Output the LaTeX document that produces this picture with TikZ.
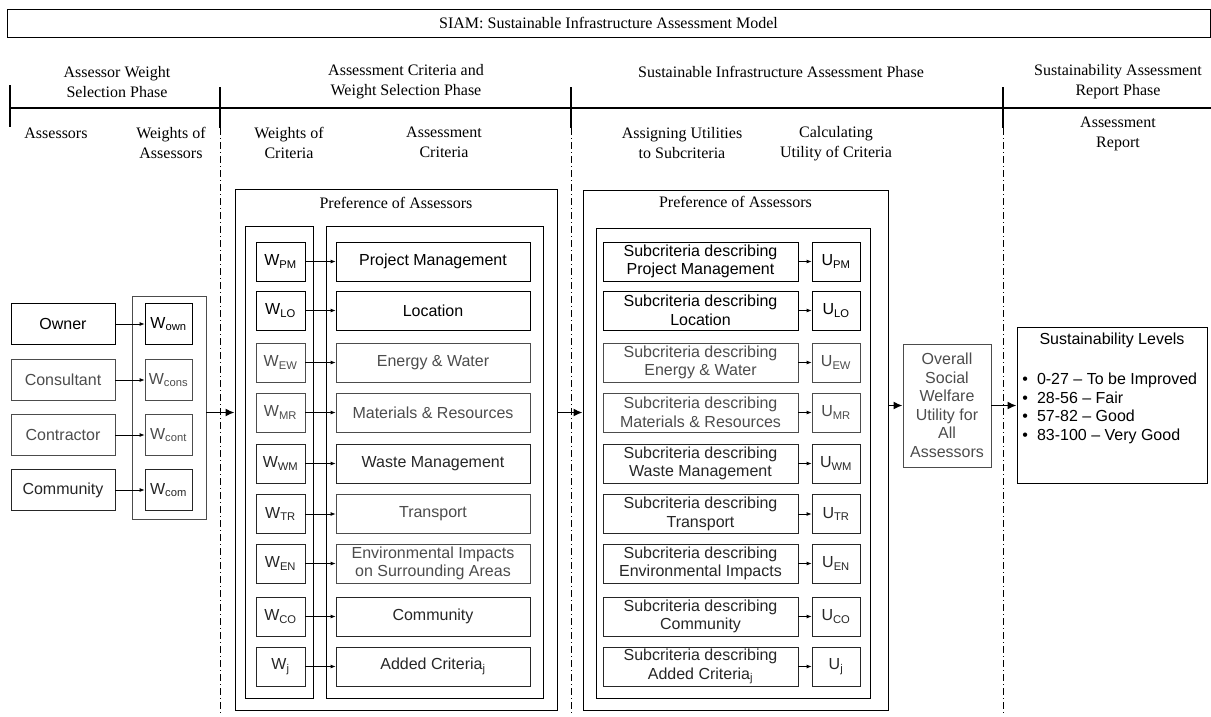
\documentclass[tikz,border=0pt]{standalone}
\usepackage{fontspec}
\setmainfont{Liberation Serif}
\setsansfont{Liberation Sans}
\usetikzlibrary{arrows.meta}

\begin{document}
\begin{tikzpicture}[x=1pt,y=-1pt,
  box/.style={draw,line width=0.8pt,inner sep=0pt,align=center,font=\sffamily\fontsize{16}{18.5}\selectfont},
  hdr/.style={inner sep=0pt,align=center,font=\fontsize{16}{20}\selectfont},
  pale/.style={draw=color2,text=color2},
  dim/.style={draw=color1,text=color1},
  arr/.style={-{Latex[length=5pt,width=4pt]},line width=0.8pt},
  bigarr/.style={-{Latex[length=9pt,width=8pt]},line width=1.8pt},
  split/.style={line width=0.8pt,dash pattern=on 7pt off 3pt on 1pt off 3pt}]
\definecolor{color1}{rgb}{0.15,0.15,0.15}
\definecolor{color2}{rgb}{0.3,0.3,0.3}
\useasboundingbox (0,0) rectangle (1211,716);

% title and time line
\node[draw,line width=0.8pt,inner sep=0pt,minimum width=1203,minimum height=28,font=\fontsize{16}{20}\selectfont] (title) at (608.5,23) {SIAM: Sustainable Infrastructure Assessment Model};
\coordinate (T0) at (10,108);
\coordinate (T1) at (1211,108);
\draw[line width=2pt] (T0) -- (T1);
\draw[line width=1.6pt] (10,85) -- (10,127);
\draw[line width=1.6pt] (220,87) -- (220,128);
\draw[line width=1.6pt] (571,87) -- (571,128);
\draw[line width=1.6pt] (1003,87) -- (1003,128);
\draw[split] (220,128) -- (220,716);
\draw[split] (571,128) -- (571,716);
\draw[split] (1003,128) -- (1003,716);

% phase names
\node[hdr] (ph1) at (117,82) {Assessor Weight\\Selection Phase};
\node[hdr] (ph2) at (406,82) {Assessment Criteria and\\Weight Selection Phase};
\node[hdr] (ph3) at (781,72) {Sustainable Infrastructure Assessment Phase};
\node[hdr] (ph4) at (1118,82) {Sustainability Assessment\\Report Phase};

% step names
\node[hdr] (st1) at (56,133) {Assessors};
\node[hdr] (st2) at (171,143) {Weights of\\Assessors};
\node[hdr] (st3) at (289,143) {Weights of\\Criteria};
\node[hdr] (st4) at (444,142) {Assessment\\Criteria};
\node[hdr] (st5) at (682,143) {Assigning Utilities\\to Subcriteria};
\node[hdr] (st6) at (836,144) {Calculating\\Utility of Criteria};
\node[hdr] (st7) at (1118,134) {Assessment\\Report};

% assessors and their weights
\node[box,minimum width=104,minimum height=41] (aOwn) at (63,324) {Owner};
\node[box,pale,minimum width=104,minimum height=41] (aCons) at (63,380) {Consultant};
\node[box,pale,minimum width=104,minimum height=41] (aCont) at (63,435) {Contractor};
\node[box,dim,minimum width=104,minimum height=41] (aCom) at (63,490) {Community};
\node[box,pale,minimum width=74,minimum height=223] (wcol) at (169,407.5) {};
\node[box,minimum width=47,minimum height=41] (wOwn) at (168.5,324) {W\textsubscript{own}};
\node[box,pale,minimum width=47,minimum height=41] (wCons) at (168.5,380) {W\textsubscript{cons}};
\node[box,pale,minimum width=47,minimum height=41] (wCont) at (168.5,435) {W\textsubscript{cont}};
\node[box,dim,minimum width=47,minimum height=41] (wCom) at (168.5,490) {W\textsubscript{com}};
\draw[arr] (aOwn) -- (wOwn);
\draw[arr] (aCons) -- (wCons);
\draw[arr] (aCont) -- (wCont);
\draw[arr] (aCom) -- (wCom);

% criteria and their weights
\node[box,minimum width=322,minimum height=521] (prefA) at (396,449.5) {};
\node[hdr] (prefAname) at (396,203) {Preference of Assessors};
\node[box,minimum width=68,minimum height=472] (wcolA) at (279,462) {};
\node[box,minimum width=217,minimum height=472] (ccolA) at (434.5,462) {};
\node[box,minimum width=49,minimum height=39] (wPM) at (280.5,261.5) {W\textsubscript{PM}};
\node[box,minimum width=49,minimum height=39] (wLO) at (280.5,310.5) {W\textsubscript{LO}};
\node[box,pale,minimum width=49,minimum height=39] (wEW) at (280.5,362.5) {W\textsubscript{EW}};
\node[box,pale,minimum width=49,minimum height=39] (wMR) at (280.5,412.5) {W\textsubscript{MR}};
\node[box,dim,minimum width=49,minimum height=39] (wWM) at (280.5,463.5) {W\textsubscript{WM}};
\node[box,dim,minimum width=49,minimum height=39] (wTR) at (280.5,514) {W\textsubscript{TR}};
\node[box,dim,minimum width=49,minimum height=39] (wEN) at (280.5,563.5) {W\textsubscript{EN}};
\node[box,dim,minimum width=49,minimum height=39] (wCO) at (280.5,616.5) {W\textsubscript{CO}};
\node[box,dim,minimum width=49,minimum height=39] (wJ) at (280.5,666.5) {W\textsubscript{j}};
\node[box,minimum width=194,minimum height=39] (cPM) at (433,261.5) {Project Management};
\node[box,minimum width=194,minimum height=39] (cLO) at (433,310.5) {Location};
\node[box,pale,minimum width=194,minimum height=39] (cEW) at (433,362.5) {Energy \& Water};
\node[box,pale,minimum width=194,minimum height=39] (cMR) at (433,412.5) {Materials \& Resources};
\node[box,dim,minimum width=194,minimum height=39] (cWM) at (433,463.5) {Waste Management};
\node[box,pale,minimum width=194,minimum height=39] (cTR) at (433,514) {Transport};
\node[box,pale,minimum width=194,minimum height=39] (cEN) at (433,563.5) {Environmental Impacts\\on Surrounding Areas};
\node[box,dim,minimum width=194,minimum height=39] (cCO) at (433,616.5) {Community};
\node[box,dim,minimum width=194,minimum height=39] (cJ) at (433,666.5) {Added Criteria\textsubscript{j}};
\draw[arr] (wPM) -- (cPM);
\draw[arr] (wLO) -- (cLO);
\draw[arr] (wEW) -- (cEW);
\draw[arr] (wMR) -- (cMR);
\draw[arr] (wWM) -- (cWM);
\draw[arr] (wTR) -- (cTR);
\draw[arr] (wEN) -- (cEN);
\draw[arr] (wCO) -- (cCO);
\draw[arr] (wJ) -- (cJ);

% utilities of criteria
\node[box,minimum width=305,minimum height=520] (prefB) at (735.5,450) {};
\node[hdr] (prefBname) at (735.5,202) {Preference of Assessors};
\node[box,minimum width=274,minimum height=470] (ucolB) at (733,463) {};
\node[box,minimum width=195,minimum height=39] (sPM) at (700.5,261.5) {Subcriteria describing\\Project Management};
\node[box,minimum width=195,minimum height=39] (sLO) at (700.5,310.5) {Subcriteria describing\\Location};
\node[box,pale,minimum width=195,minimum height=39] (sEW) at (700.5,362.5) {Subcriteria describing\\Energy \& Water};
\node[box,pale,minimum width=195,minimum height=39] (sMR) at (700.5,412.5) {Subcriteria describing\\Materials \& Resources};
\node[box,dim,minimum width=195,minimum height=39] (sWM) at (700.5,463.5) {Subcriteria describing\\Waste Management};
\node[box,dim,minimum width=195,minimum height=39] (sTR) at (700.5,514) {Subcriteria describing\\Transport};
\node[box,dim,minimum width=195,minimum height=39] (sEN) at (700.5,563.5) {Subcriteria describing\\Environmental Impacts};
\node[box,dim,minimum width=195,minimum height=39] (sCO) at (700.5,616.5) {Subcriteria describing\\Community};
\node[box,dim,minimum width=195,minimum height=39] (sJ) at (700.5,666.5) {Subcriteria describing\\Added Criteria\textsubscript{j}};
\node[box,minimum width=48,minimum height=39] (uPM) at (836,261.5) {U\textsubscript{PM}};
\node[box,minimum width=48,minimum height=39] (uLO) at (836,310.5) {U\textsubscript{LO}};
\node[box,pale,minimum width=48,minimum height=39] (uEW) at (836,362.5) {U\textsubscript{EW}};
\node[box,pale,minimum width=48,minimum height=39] (uMR) at (836,412.5) {U\textsubscript{MR}};
\node[box,dim,minimum width=48,minimum height=39] (uWM) at (836,463.5) {U\textsubscript{WM}};
\node[box,dim,minimum width=48,minimum height=39] (uTR) at (836,514) {U\textsubscript{TR}};
\node[box,dim,minimum width=48,minimum height=39] (uEN) at (836,563.5) {U\textsubscript{EN}};
\node[box,dim,minimum width=48,minimum height=39] (uCO) at (836,616.5) {U\textsubscript{CO}};
\node[box,dim,minimum width=48,minimum height=39] (uJ) at (836,666.5) {U\textsubscript{j}};
\draw[arr] (sPM) -- (uPM);
\draw[arr] (sLO) -- (uLO);
\draw[arr] (sEW) -- (uEW);
\draw[arr] (sMR) -- (uMR);
\draw[arr] (sWM) -- (uWM);
\draw[arr] (sTR) -- (uTR);
\draw[arr] (sEN) -- (uEN);
\draw[arr] (sCO) -- (uCO);
\draw[arr] (sJ) -- (uJ);

% overall utility and report
\node[box,pale,minimum width=88,minimum height=123] (overall) at (947,405.5) {Overall\\Social\\Welfare\\Utility for\\All\\Assessors};
\node[box,minimum width=190,minimum height=156] (levels) at (1112,405) {};
\node[box,draw=none] (levelsname) at (1112,340) {Sustainability Levels};
\node[box,draw=none,anchor=west,align=left] (levelslist) at (1022,408.5) {\textbullet\hspace{9pt}0-27 – To be Improved\\\textbullet\hspace{9pt}28-56 – Fair\\\textbullet\hspace{9pt}57-82 – Good\\\textbullet\hspace{9pt}83-100 – Very Good};

% flow between phases
\draw[bigarr] (wcol.east |- wMR.center) -- (prefA.west |- wMR.center);
\draw[bigarr] (prefA.east |- wMR.center) -- (prefB.west |- wMR.center);
\draw[bigarr] (prefB.east |- overall.center) -- (overall.west);
\draw[bigarr] (overall.east) -- (levels.west |- overall.center);

\end{tikzpicture}
\end{document}
